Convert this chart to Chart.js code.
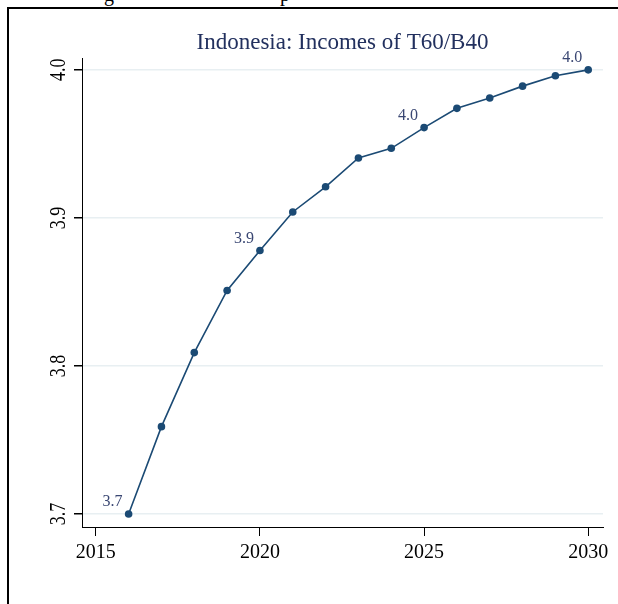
<!DOCTYPE html>
<html>
<head>
<meta charset="utf-8">
<script src="https://cdn.jsdelivr.net/npm/chart.js@4"></script>
<style>
  html, body { margin: 0; padding: 0; background: #fff; }
  body { width: 618px; height: 604px; position: relative; overflow: hidden; }
  #frame { position: absolute; left: 7px; top: 7px; right: -2px; bottom: -2px;
           border-left: 2px solid #000; border-top: 2px solid #000; }
  #cut { position: absolute; top: -17px; left: 0; width: 618px; font: 20px "Liberation Serif", serif; color: #000; }
  #cut span { position: absolute; }
  canvas { position: absolute; left: 0; top: 0; }
</style>
</head>
<body>
<div id="cut"><span style="left:104px">g</span><span style="left:280px">p</span></div>
<div id="frame"></div>
<canvas id="chart" width="618" height="604"></canvas>
<script>
(() => {
  // data
  const years = [2016, 2017, 2018, 2019, 2020, 2021, 2022, 2023, 2024, 2025, 2026, 2027, 2028, 2029, 2030];
  const ratio = [3.700, 3.759, 3.809, 3.851, 3.878, 3.904, 3.921, 3.9405, 3.947, 3.961, 3.974, 3.981, 3.989, 3.996, 4.000];
  const labelled = [2016, 2020, 2025, 2030];
  const xTicks = [2015, 2020, 2025, 2030];
  const yTicks = [3.7, 3.8, 3.9, 4.0];
  const title = 'Indonesia: Incomes of T60/B40';

  const navy = '#1b4a74';
  const serif = '"Liberation Serif", "Times New Roman", serif';

  // title, rotated y labels and point labels
  const extras = {
    id: 'extras',
    afterDraw(chart) {
      const c = chart.ctx, a = chart.chartArea;
      c.save();
      c.fillStyle = '#22305e';
      c.font = '23px ' + serif;
      c.textAlign = 'center';
      c.textBaseline = 'middle';
      c.fillText(title, (a.left + a.right) / 2, 43);

      // y labels are set a bit wider than tall, like the original
      const ys = chart.scales.y;
      c.fillStyle = '#000';
      c.font = '18px ' + serif;
      yTicks.forEach(v => {
        c.save();
        c.translate(59, ys.getPixelForValue(v));
        c.rotate(-Math.PI / 2);
        c.scale(1, 1.25);
        c.fillText(v.toFixed(1), 0, 0);
        c.restore();
      });

      const meta = chart.getDatasetMeta(0);
      c.fillStyle = '#3a4773';
      c.font = '16px ' + serif;
      years.forEach((yr, i) => {
        if (!labelled.includes(yr)) return;
        const p = meta.data[i];
        c.fillText(ratio[i].toFixed(1), p.x - 16, p.y - 12);
      });
      c.restore();
    }
  };

  new Chart(document.getElementById('chart'), {
    type: 'line',
    data: {
      labels: years,
      datasets: [{
        data: years.map((x, i) => ({ x, y: ratio[i] })),
        borderColor: navy, backgroundColor: navy,
        borderWidth: 1.6, pointRadius: 3.8, pointBorderWidth: 0,
        tension: 0, fill: false
      }]
    },
    options: {
      responsive: false,
      animation: false,
      layout: { padding: { left: 42, right: 15, top: 58, bottom: 27 } },
      plugins: { legend: { display: false }, tooltip: { enabled: false } },
      scales: {
        x: {
          type: 'linear', min: 2014.58, max: 2030.45,
          afterBuildTicks: s => { s.ticks = xTicks.map(value => ({ value })); },
          afterFit: s => { s.height = 50; },
          border: { color: '#000', width: 1 },
          grid: { drawOnChartArea: false, tickColor: '#000', tickLength: 9 },
          ticks: { color: '#000', font: { family: serif, size: 20 }, padding: 5, maxRotation: 0,
                   callback: v => String(v) }
        },
        y: {
          type: 'linear', min: 3.6912, max: 4.008,
          afterBuildTicks: s => { s.ticks = yTicks.map(value => ({ value })); },
          afterFit: s => { s.width = 40; },
          border: { color: '#000', width: 1 },
          grid: { color: '#e8eff2', lineWidth: 1.5, tickColor: '#000', tickLength: 8 },
          ticks: { display: false }
        }
      }
    },
    plugins: [extras]
  });
})();
</script>
</body>
</html>
